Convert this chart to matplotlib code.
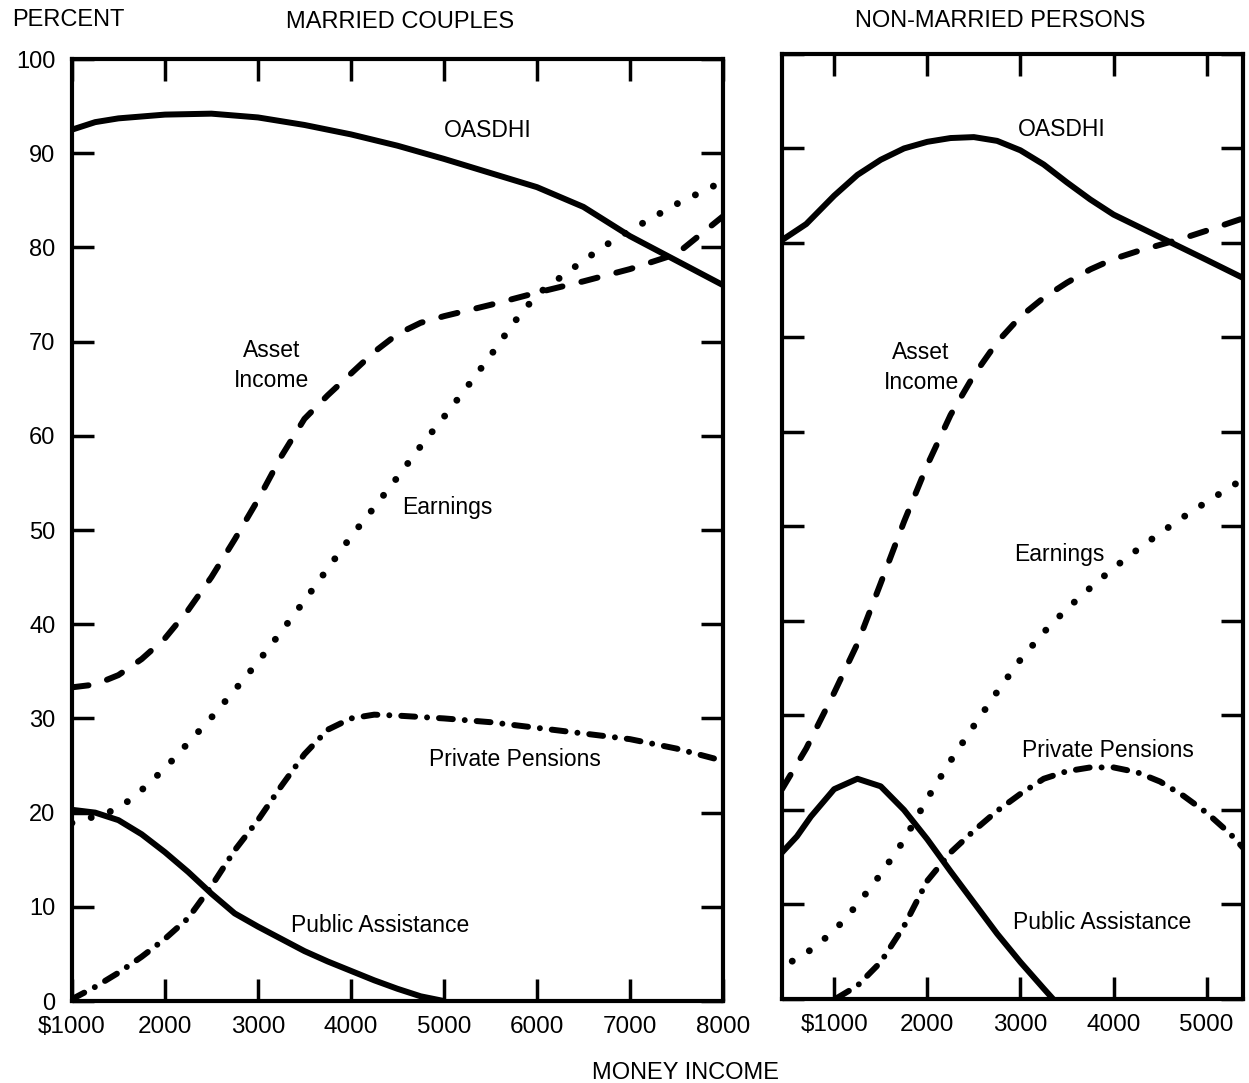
import matplotlib
matplotlib.use("Agg")
from matplotlib import pyplot as plt

plt.rcParams['font.family'] = ['Liberation Sans', 'DejaVu Sans']
plt.rcParams['lines.scale_dashes'] = False

# Married couples (money income, percent receiving)
mc_oasdhi_x = [1000, 1250, 1500, 2000, 2500, 3000, 3500, 4000, 4500, 5000, 5500, 6000, 6500, 7000, 7500, 8000]
mc_oasdhi_y = [92.5, 93.3, 93.7, 94.1, 94.2, 93.8, 93.0, 92.0, 90.8, 89.4, 87.9, 86.4, 84.3, 81.2, 78.6, 76.0]

mc_asset_x = [1000, 1250, 1500, 1750, 2000, 2250, 2500, 2750, 3000, 3250, 3500, 3750, 4000, 4250, 4500,
              4750, 5000, 5500, 6000, 6500, 7000, 7500, 8000]
mc_asset_y = [33.3, 33.6, 34.6, 36.3, 38.5, 41.5, 45.0, 49.0, 53.2, 57.8, 61.8, 64.3, 66.6, 68.9, 70.8,
              72.0, 72.7, 73.9, 75.2, 76.4, 77.7, 79.3, 83.3]

mc_earn_x = [1000, 1250, 1500, 1750, 2000, 2250, 2500, 2750, 3000, 3250, 3500, 3750, 4000, 4250, 4500,
             4750, 5000, 5250, 5500, 5750, 6000, 6250, 6500, 6750, 7000, 7250, 7500, 7750, 8000]
mc_earn_y = [18.9, 19.6, 20.4, 22.4, 24.7, 27.4, 30.1, 33.0, 36.0, 39.2, 42.5, 45.9, 49.3, 52.4, 55.6,
             58.9, 62.0, 65.2, 68.5, 72.0, 75.0, 76.8, 78.6, 80.3, 81.8, 83.2, 84.6, 85.8, 87.0]

mc_pens_x = [1000, 1250, 1500, 1750, 2000, 2250, 2500, 2750, 3000, 3250, 3500, 3750, 4000, 4250, 4500,
             5000, 5500, 6000, 6500, 7000, 7500, 8000]
mc_pens_y = [0.2, 1.5, 3.0, 4.7, 6.6, 8.8, 12.2, 16.0, 19.2, 22.8, 26.2, 28.8, 30.0, 30.4, 30.3,
             30.0, 29.6, 29.0, 28.4, 27.8, 26.8, 25.5]

mc_pubas_x = [1000, 1250, 1500, 1750, 2000, 2250, 2500, 2750, 3000, 3250, 3500, 3750, 4000, 4250, 4500, 4750, 5000]
mc_pubas_y = [20.3, 20.0, 19.2, 17.7, 15.8, 13.7, 11.4, 9.3, 7.9, 6.6, 5.3, 4.2, 3.2, 2.2, 1.3, 0.5, 0.0]

# Non-married persons
nm_oasdhi_x = [440, 700, 1000, 1250, 1500, 1750, 2000, 2250, 2500, 2750, 3000, 3250, 3500, 3750, 4000,
               4250, 4500, 4750, 5000, 5390]
nm_oasdhi_y = [80.3, 82.0, 85.0, 87.2, 88.8, 90.0, 90.7, 91.1, 91.2, 90.8, 89.8, 88.3, 86.4, 84.6, 83.0,
               81.8, 80.6, 79.4, 78.2, 76.3]

nm_asset_x = [440, 700, 1000, 1250, 1500, 1750, 2000, 2250, 2500, 2750, 3000, 3250, 3500, 3750, 4000,
              4250, 4500, 4750, 5000, 5390]
nm_asset_y = [22.2, 26.5, 32.4, 37.6, 44.0, 50.5, 56.5, 61.8, 66.0, 69.5, 72.2, 74.2, 75.8, 77.2, 78.3,
              79.1, 79.8, 80.5, 81.3, 82.6]

nm_earn_x = [550, 750, 1000, 1250, 1500, 1750, 2000, 2250, 2500, 2750, 3000, 3250, 3500, 3750, 4000,
             4250, 4500, 4750, 5000, 5390]
nm_earn_y = [4.0, 5.2, 7.2, 10.0, 13.2, 16.8, 21.2, 25.2, 28.9, 32.5, 35.9, 38.8, 41.3, 43.5, 45.6,
             47.5, 49.3, 51.0, 52.6, 55.0]

nm_pens_x = [1030, 1250, 1500, 1750, 2000, 2250, 2500, 2750, 3000, 3250, 3500, 3750, 4000, 4250, 4500,
             4750, 5000, 5250, 5390]
nm_pens_y = [0.1, 1.4, 3.9, 7.7, 12.5, 15.5, 17.8, 19.9, 21.7, 23.3, 24.1, 24.5, 24.5, 24.0, 23.0,
             21.5, 19.7, 17.5, 16.0]

nm_pubas_x = [440, 600, 750, 1000, 1250, 1500, 1750, 2000, 2250, 2500, 2750, 3000, 3250, 3350]
nm_pubas_y = [15.5, 17.2, 19.3, 22.2, 23.3, 22.5, 20.0, 16.9, 13.5, 10.2, 6.9, 3.9, 1.1, 0.0]

mc_xticks = [1000, 2000, 3000, 4000, 5000, 6000, 7000, 8000]
mc_xlabels = ['$1000', '2000', '3000', '4000', '5000', '6000', '7000', '8000']
nm_xticks = [1000, 2000, 3000, 4000, 5000]
nm_xlabels = ['$1000', '2000', '3000', '4000', '5000']
yticks = list(range(0, 101, 10))

STYLES = {
    'oasdhi': dict(lw=4.3, ls='-', solid_capstyle='round'),
    'asset': dict(lw=4.3, ls=(0, (12, 14)), dash_capstyle='round'),
    'earn': dict(lw=5.0, ls=(0, (0.01, 14.4)), dash_capstyle='round'),
    'pens': dict(lw=4.3, ls=(0, (10, 8.6, 0.01, 8.6)), dash_capstyle='round'),
    'pubas': dict(lw=4.3, ls='-', solid_capstyle='round'),
}


def style_axes(ax, xlim, xticks, xlabels, ylabels):
    ax.set_xlim(*xlim)
    ax.set_ylim(0, 100)
    for sp in ax.spines.values():
        sp.set_linewidth(3)
    ax.set_xticks(xticks)
    ax.set_xticklabels(xlabels)
    ax.set_yticks(yticks)
    if ylabels:
        ax.set_yticklabels([str(v) for v in yticks])
    else:
        ax.set_yticklabels([])
    ax.tick_params(direction='in', length=16, width=2.5, top=True, right=True,
                   labelsize=17.5)
    ax.tick_params(axis='x', pad=11)
    ax.tick_params(axis='y', pad=12, labelsize=17)


fig = plt.figure(figsize=(12.49, 10.83), dpi=100)
ax1 = fig.add_axes([0.0576, 0.0757, 0.5212, 0.8698])
ax2 = fig.add_axes([0.6261, 0.0776, 0.3691, 0.8726])

ax1.plot(mc_oasdhi_x, mc_oasdhi_y, color='black', **STYLES['oasdhi'])
ax1.plot(mc_asset_x, mc_asset_y, color='black', **STYLES['asset'])
ax1.plot(mc_earn_x, mc_earn_y, color='black', **STYLES['earn'])
ax1.plot(mc_pens_x, mc_pens_y, color='black', **STYLES['pens'])
ax1.plot(mc_pubas_x, mc_pubas_y, color='black', **STYLES['pubas'])
style_axes(ax1, (1000, 8000), mc_xticks, mc_xlabels, True)

ax2.plot(nm_oasdhi_x, nm_oasdhi_y, color='black', **STYLES['oasdhi'])
ax2.plot(nm_asset_x, nm_asset_y, color='black', **STYLES['asset'])
ax2.plot(nm_earn_x, nm_earn_y, color='black', **STYLES['earn'])
ax2.plot(nm_pens_x, nm_pens_y, color='black', **STYLES['pens'])
ax2.plot(nm_pubas_x, nm_pubas_y, color='black', **STYLES['pubas'])
style_axes(ax2, (440, 5390), nm_xticks, nm_xlabels, False)

# curve labels
lab = dict(ha='center', va='center', fontsize=16.5)
ax1.text(5473, 92.4, 'OASDHI', **lab)
ax1.text(3150, 67.5, 'Asset\nIncome', linespacing=1.4, **lab)
ax1.text(5032, 52.4, 'Earnings', **lab)
ax1.text(5763, 25.6, 'Private Pensions', **lab)
ax1.text(4312, 8.0, 'Public Assistance', **lab)

ax2.text(3445, 92.0, 'OASDHI', **lab)
ax2.text(1933, 66.8, 'Asset\nIncome', linespacing=1.4, **lab)
ax2.text(3413, 47.0, 'Earnings', **lab)
ax2.text(3938, 26.3, 'Private Pensions', **lab)
ax2.text(3874, 8.1, 'Public Assistance', **lab)

# headings
fig.text(12 / 1249, 1 - 20 / 1083, 'PERCENT', ha='left', va='center', fontsize=17)
fig.text(400 / 1249, 1 - 22 / 1083, 'MARRIED COUPLES', ha='center', va='center', fontsize=17)
fig.text(1000 / 1249, 1 - 21 / 1083, 'NON-MARRIED PERSONS', ha='center', va='center', fontsize=17)
fig.text(686 / 1249, 1 - 1073 / 1083, 'MONEY INCOME', ha='center', va='center', fontsize=17)

fig.savefig('out.png', dpi=100)
